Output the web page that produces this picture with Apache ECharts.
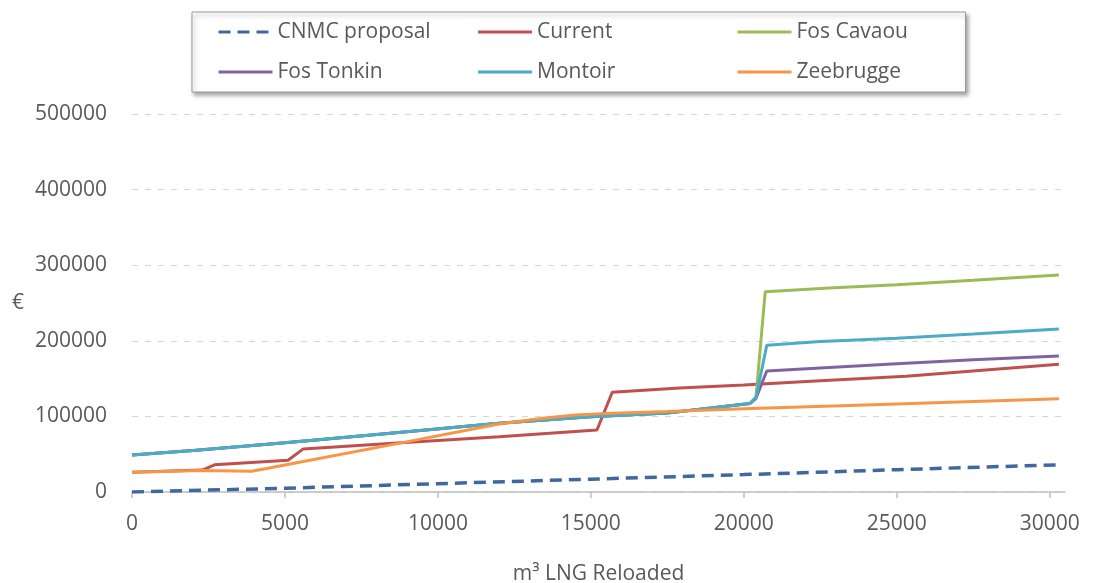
<!DOCTYPE html>
<html>
<head>
<meta charset="utf-8">
<script src="https://cdn.jsdelivr.net/npm/echarts@6/dist/echarts.min.js"></script>
<style>
html,body{margin:0;padding:0;background:#fff;}
#chart{width:1094px;height:583px;}
</style>
</head>
<body>
<div id="chart"></div>
<script>
// ---- data ----
const seriesNames = ['CNMC proposal', 'Current', 'Fos Cavaou', 'Fos Tonkin', 'Montoir', 'Zeebrugge'];
const xTickValues = [0, 5000, 10000, 15000, 20000, 25000, 30000];
const yTickValues = [0, 100000, 200000, 300000, 400000, 500000];

const cnmcData = [[0,0],[5000,5000],[10000,11000],[15000,17000],[20000,23000],[25000,29500],[30300,36000]];
const currentData = [[0,26000],[2300,29000],[2700,36000],[5100,42000],[5600,57000],[8800,65000],[12000,73000],[15200,82000],[15700,132000],[17900,137500],[20000,141500],[22500,147000],[25300,153000],[30300,169000]];
const fosCavaouData = [[0,49000],[2000,55000],[5000,65000],[8000,76000],[12000,91000],[15000,99500],[17500,104500],[20200,117000],[20400,126000],[20700,265000],[22800,270000],[25000,274000],[27500,280000],[30300,287000]];
const fosTonkinData = [[0,49000],[2000,55000],[5000,65000],[8000,76000],[12000,91000],[15000,99500],[17500,104500],[20200,117000],[20400,124000],[20750,160000],[22500,164000],[25000,169500],[27500,175000],[30300,180000]];
const montoirData = [[0,49000],[2000,55000],[5000,65000],[8000,76000],[12000,91000],[15000,99500],[17500,104500],[20200,117000],[20400,125000],[20750,194000],[22500,199000],[25000,203500],[27500,209000],[30300,215500]];
const zeebruggeData = [[0,26000],[2300,28500],[3900,27500],[4400,31000],[5300,38000],[8800,65000],[12000,90000],[13500,98000],[14500,102000],[15500,104000],[17500,106500],[20000,110000],[25000,116500],[30300,123500]];

const seriesData = [cnmcData, currentData, fosCavaouData, fosTonkinData, montoirData, zeebruggeData];
const seriesColors = ['#41689E', '#C0504D', '#9BBB59', '#8064A2', '#4BACC6', '#F79646'];

const FONT = "'Open Sans', 'Noto Sans', sans-serif";
const TXT = '#595959';
const FS = 21;

const chart = echarts.init(document.getElementById('chart'), null, {renderer: 'canvas'});

const series = seriesNames.map((name, i) => ({
  name: name,
  type: 'line',
  data: seriesData[i],
  symbol: 'none',
  showSymbol: false,
  smooth: false,
  animation: false,
  lineStyle: i === 0
    ? {color: seriesColors[i], width: 3.5, type: [12, 7]}
    : {color: seriesColors[i], width: 3},
  itemStyle: {color: seriesColors[i]}
}));

const legendData = seriesNames.map((name, i) => ({
  name: name,
  textStyle: {width: (i % 3 === 2) ? 140 : 199}
}));

chart.setOption({
  backgroundColor: '#fff',
  animation: false,
  legend: {
    data: legendData,
    left: 192,
    top: 12,
    width: 720,
    orient: 'horizontal',
    padding: [0, 29, 0, 25],
    itemWidth: 54,
    itemHeight: 14,
    itemGap: 0,
    itemTextGap: 6,
    backgroundColor: '#fff',
    borderColor: '#9a9a9a',
    borderWidth: 1,
    shadowColor: 'rgba(0,0,0,0.35)',
    shadowBlur: 4,
    shadowOffsetX: 2,
    shadowOffsetY: 3,
    itemStyle: {opacity: 0},
    lineStyle: {width: 3},
    textStyle: {fontFamily: FONT, fontSize: FS, color: TXT, lineHeight: 40}
  },
  grid: {left: 132, right: 29, top: 114, bottom: 91, containLabel: false, outerBoundsMode: 'none'},
  xAxis: {
    type: 'value',
    min: 0,
    max: 30500,
    interval: 5000,
    name: 'm³ LNG Reloaded',
    nameLocation: 'middle',
    nameGap: 72,
    nameTextStyle: {fontFamily: FONT, fontSize: FS, color: TXT},
    axisLine: {show: true, lineStyle: {color: '#BFBFBF', width: 1.5}},
    axisTick: {show: true, length: 6, lineStyle: {color: '#BFBFBF', width: 1.5}, customValues: xTickValues},
    axisLabel: {fontFamily: FONT, fontSize: FS, color: TXT, margin: 22, customValues: xTickValues,
      formatter: v => String(v)},
    splitLine: {show: false}
  },
  yAxis: {
    type: 'value',
    min: 0,
    max: 500000,
    interval: 100000,
    name: '€',
    nameLocation: 'middle',
    nameRotate: 0,
    nameGap: 108,
    nameTextStyle: {fontFamily: FONT, fontSize: FS, color: TXT},
    axisLine: {show: false},
    axisTick: {show: false},
    axisLabel: {fontFamily: FONT, fontSize: FS, color: TXT, margin: 25, customValues: yTickValues,
      formatter: v => String(v)},
    splitLine: {show: true, lineStyle: {color: '#D4D4D4', width: 1, type: [6, 7]}}
  },
  series: series
});
</script>
</body>
</html>
